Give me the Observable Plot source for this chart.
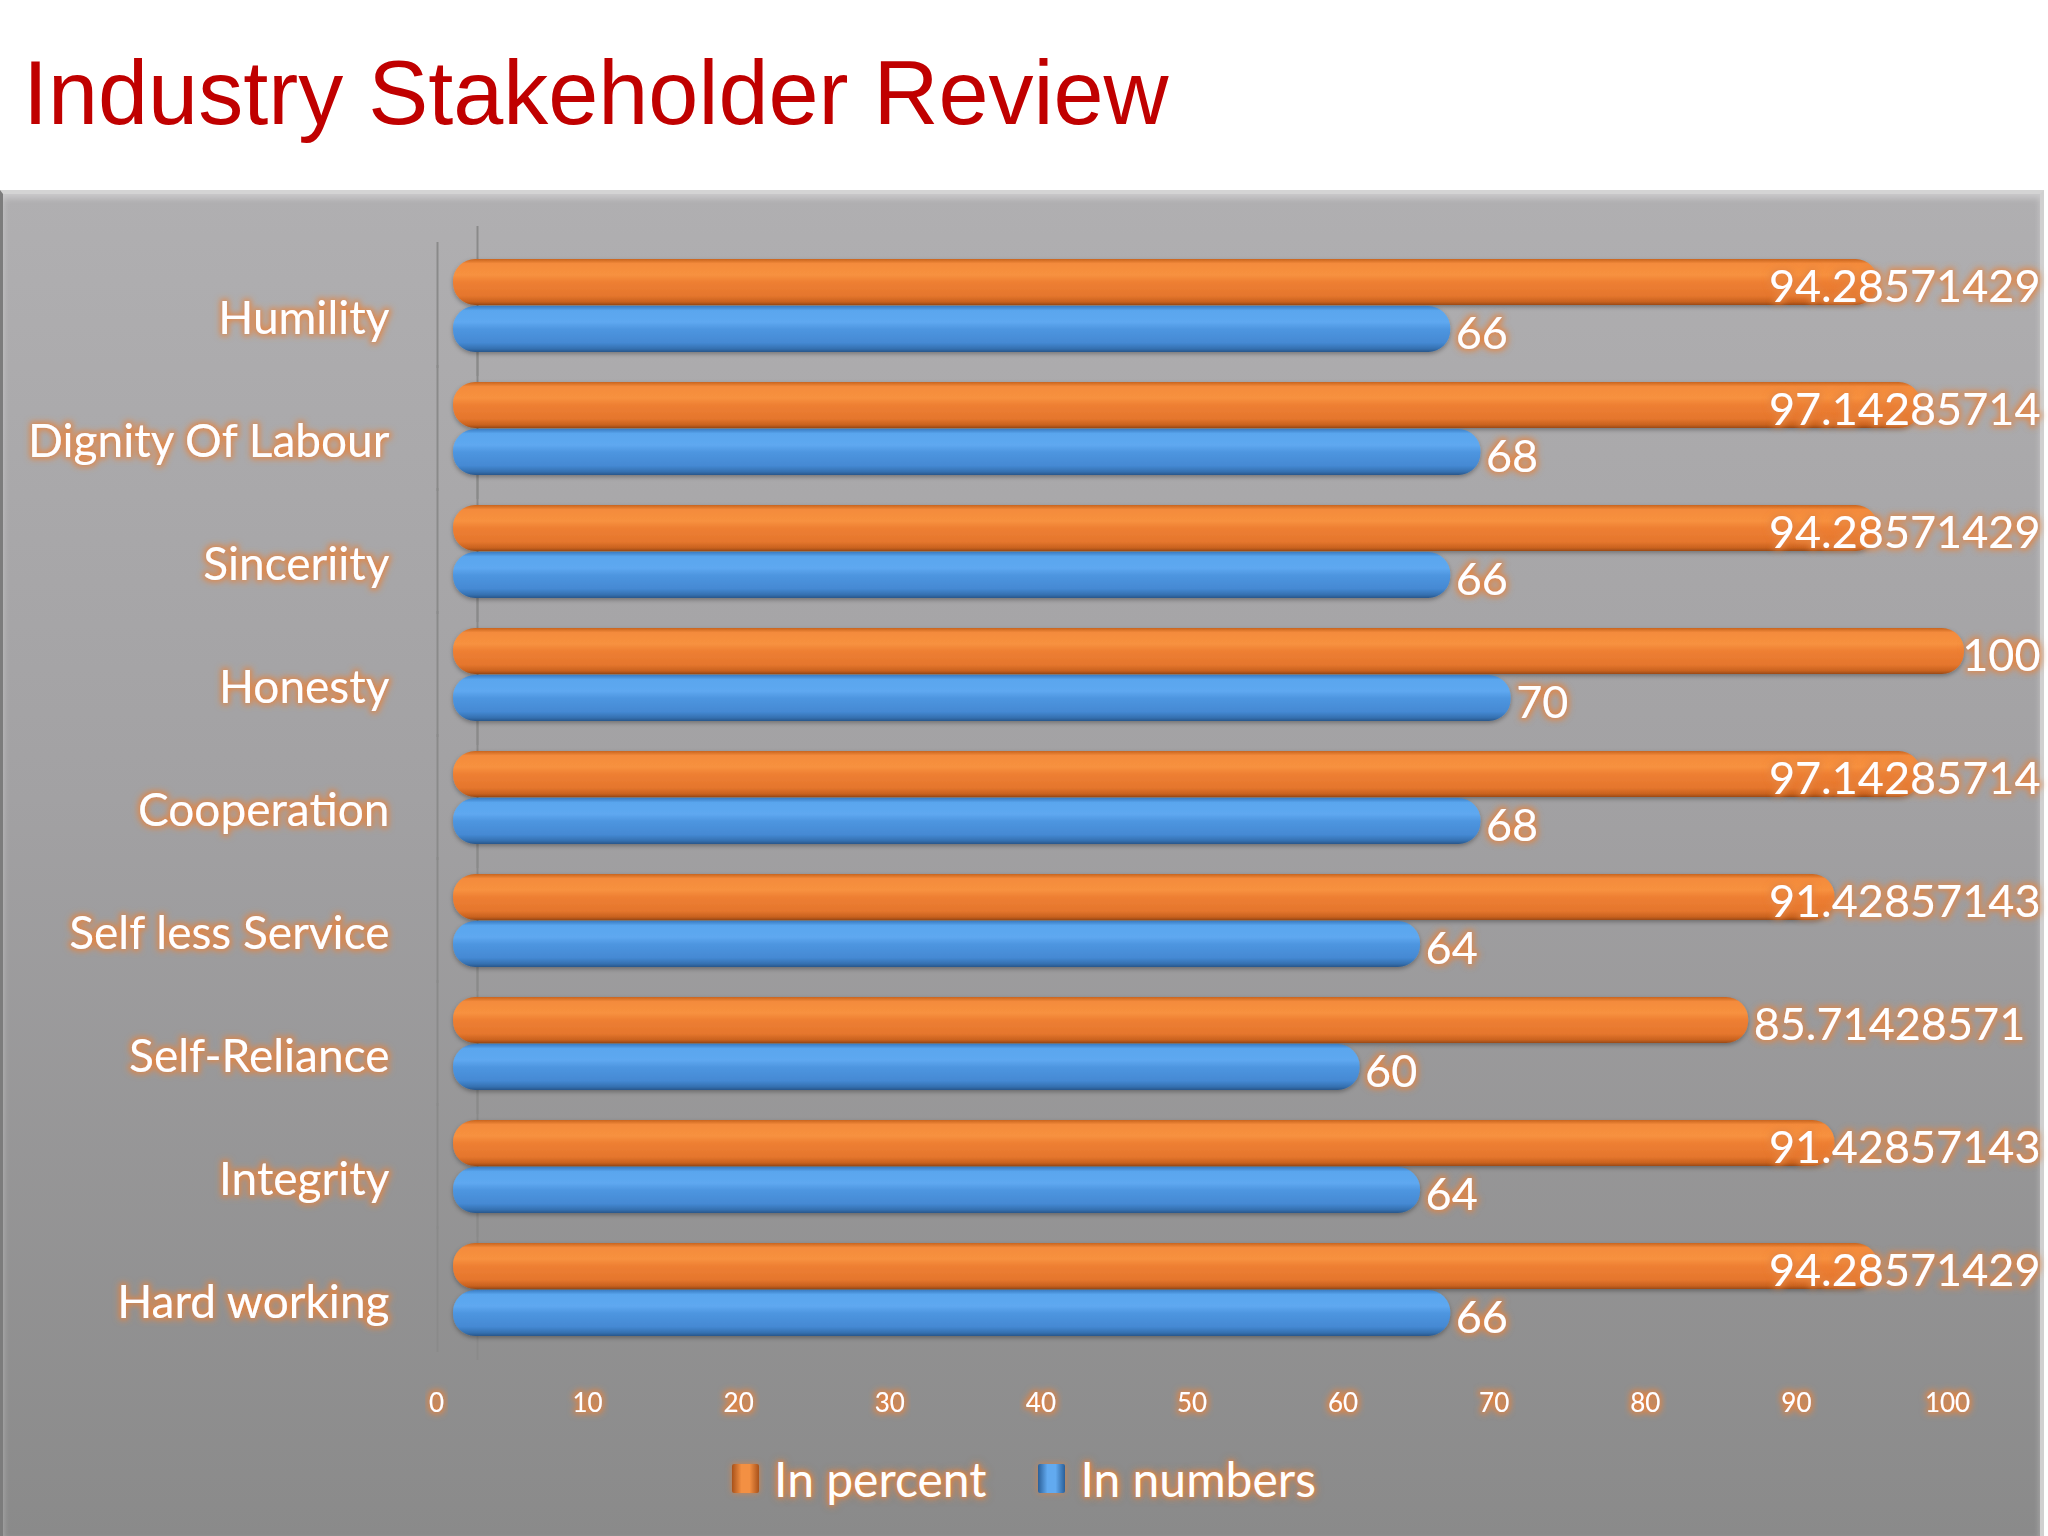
<!DOCTYPE html>
<html>
<head>
<meta charset="utf-8">
<script src="https://cdn.jsdelivr.net/npm/d3@7"></script>
<script src="https://cdn.jsdelivr.net/npm/@observablehq/plot@0.6"></script>
<style>
  html, body { margin: 0; padding: 0; background: #ffffff; }
  #page { position: relative; width: 2048px; height: 1536px; overflow: hidden; background: #ffffff; }
  #title { position: absolute; left: 23px; top: 48px; font-family: "Liberation Sans", Arial, sans-serif; font-size: 90px; line-height: 1; color: #c00000; white-space: nowrap; }
  #panel { position: absolute; left: 0; top: 190px; width: 2044px; height: 1346px;
           background: linear-gradient(to bottom, #b0afb1 0%, #a2a1a3 45%, #8a8a8a 100%);
           border-top: 4px solid #d4d4d4; border-left: 3px solid #7c7c7c; border-right: 4px solid #d0d0d0; box-sizing: border-box;
           box-shadow: inset 0 4px 6px rgba(255,255,255,0.35); }
  #chart { position: absolute; left: 0; top: 190px; width: 2048px; }
  #chart svg text { filter: url(#glow); }
  #chart svg g[aria-label="bar"] { filter: url(#barshadow); }
  #legend { position: absolute; left: 0; top: 1440px; width: 2048px; height: 76px; display: flex; align-items: center; justify-content: center;
            font-family: Lato, "Open Sans", sans-serif; font-size: 48px; color: #ffffff; gap: 0; }
  #legend .txt { text-shadow: 0 0 4px #e5843f, 0 0 7px #e5843f, 0 0 10px rgba(229,132,63,0.7); margin-left: 15px; margin-right: 52px; }
  #legend .txt:last-child { margin-right: 0; }
  #legend .sw { display: inline-block; width: 27px; height: 29px; border-radius: 2px; }
  #legend .sw.o { background: linear-gradient(to right, #a9521a 0%, #f39043 35%, #f39043 65%, #a9521a 100%); box-shadow: 0 0 6px rgba(229,132,63,0.8); }
  #legend .sw.b { background: linear-gradient(to right, #2b5f98 0%, #62aaf0 35%, #62aaf0 65%, #2b5f98 100%); box-shadow: 0 0 6px rgba(229,132,63,0.8); }
</style>
</head>
<body>
<div id="page">
  <div id="title">Industry Stakeholder Review</div>
  <div id="panel"></div>
  <div id="chart"></div>
  <div id="legend"></div>
</div>
<script>
// ---- data ----
const categories = ["Humility", "Dignity Of Labour", "Sinceriity", "Honesty", "Cooperation", "Self less Service", "Self-Reliance", "Integrity", "Hard working"];
const inPercent = [94.28571429, 97.14285714, 94.28571429, 100, 97.14285714, 91.42857143, 85.71428571, 91.42857143, 94.28571429];
const inNumbers = [66, 68, 66, 70, 68, 64, 60, 64, 66];
const seriesNames = ["In percent", "In numbers"];
const xTicks = [0, 10, 20, 30, 40, 50, 60, 70, 80, 90, 100];

const rows = categories.flatMap((c, i) => [
  {category: c, series: seriesNames[0], value: inPercent[i]},
  {category: c, series: seriesNames[1], value: inNumbers[i]}
]);

// ---- layout ----
const W = 2048, H = 1250, ML = 453, MR = 84, MT = 64, MB = 100;
const valueFont = 45;
const pxPerUnit = (W - ML - MR) / 100;
const labelRightLimit = W - 8;
const labelGap = 5;
const ctx = document.createElement("canvas").getContext("2d");
ctx.font = `${valueFont}px Lato`;
function labelStart(d) {
  const w = ctx.measureText(String(d.value)).width;
  const maxStart = (labelRightLimit - ML - labelGap - w) / pxPerUnit;
  return Math.min(d.value, maxStart);
}

const chart = Plot.plot({
  width: W, height: H,
  marginLeft: ML, marginRight: MR, marginTop: MT, marginBottom: MB,
  style: {background: "transparent", color: "white", fontFamily: "Lato", overflow: "visible"},
  x: {domain: [0, 100]},
  y: {domain: seriesNames, padding: 0.03, axis: null},
  fy: {domain: categories, padding: 0.22, axis: null},
  marks: [
    // back wall edge lines (one segment per facet, extended over the facet gaps)
    Plot.ruleX(categories, {fy: d => d, x: () => 0, dx: 24, insetTop: -31, insetBottom: -23, stroke: "#8a8a8a", strokeWidth: 2}),
    Plot.ruleX(categories, {fy: d => d, x: () => 0, dx: -16, insetTop: -15, insetBottom: -15, stroke: "#8a8a8a", strokeWidth: 2}),
    Plot.barX(rows, {filter: d => d.series === seriesNames[0], x: "value", y: "series", fy: "category", fill: "url(#gradOrange)", rx: 22}),
    Plot.barX(rows, {filter: d => d.series === seriesNames[1], x: "value", y: "series", fy: "category", fill: "url(#gradBlue)", rx: 22}),
    Plot.text(rows, {fy: "category", y: "series", x: labelStart, text: d => String(d.value), textAnchor: "start", dx: labelGap, dy: 5, fill: "white", fontSize: valueFont}),
    Plot.text(categories, {fy: d => d, text: d => d, frameAnchor: "left", textAnchor: "end", dx: -64, dy: 14, fill: "white", fontSize: 46}),
    Plot.axisX(xTicks, {anchor: "bottom", tickSize: 0, tickPadding: 56, fontSize: 26, dx: -17, fill: "white", label: null})
  ]
});

chart.insertAdjacentHTML("afterbegin", `
<defs>
  <linearGradient id="gradOrange" x1="0" y1="0" x2="0" y2="1">
    <stop offset="0" stop-color="#c8641f"/>
    <stop offset="0.1" stop-color="#f48b3c"/>
    <stop offset="0.35" stop-color="#f7913f"/>
    <stop offset="0.5" stop-color="#ee7f33"/>
    <stop offset="0.8" stop-color="#e5762d"/>
    <stop offset="0.93" stop-color="#c9621f"/>
    <stop offset="1" stop-color="#9a4a17"/>
  </linearGradient>
  <linearGradient id="gradBlue" x1="0" y1="0" x2="0" y2="1">
    <stop offset="0" stop-color="#3b7dc4"/>
    <stop offset="0.1" stop-color="#5aa6ee"/>
    <stop offset="0.35" stop-color="#5ea8f0"/>
    <stop offset="0.5" stop-color="#4e96e0"/>
    <stop offset="0.8" stop-color="#4589d3"/>
    <stop offset="0.93" stop-color="#3570b0"/>
    <stop offset="1" stop-color="#28568a"/>
  </linearGradient>
  <filter id="glow" x="-20%" y="-50%" width="140%" height="200%">
    <feMorphology in="SourceAlpha" operator="dilate" radius="2" result="d"/>
    <feGaussianBlur in="d" stdDeviation="3" result="b"/>
    <feFlood flood-color="#e5843f" flood-opacity="0.9"/>
    <feComposite in2="b" operator="in" result="g"/>
    <feMerge><feMergeNode in="g"/><feMergeNode in="SourceGraphic"/></feMerge>
  </filter>
  <filter id="barshadow" x="-5%" y="-30%" width="110%" height="160%">
    <feDropShadow dx="0" dy="2" stdDeviation="2" flood-color="#000" flood-opacity="0.3"/>
  </filter>
</defs>`);

document.getElementById("chart").appendChild(chart);

// legend
const legend = document.getElementById("legend");
const legendClass = ["o", "b"];
seriesNames.forEach((s, i) => {
  const sw = document.createElement("span");
  sw.className = "sw " + legendClass[i];
  const t = document.createElement("span");
  t.className = "txt";
  t.textContent = s;
  legend.appendChild(sw);
  legend.appendChild(t);
});
</script>
</body>
</html>
